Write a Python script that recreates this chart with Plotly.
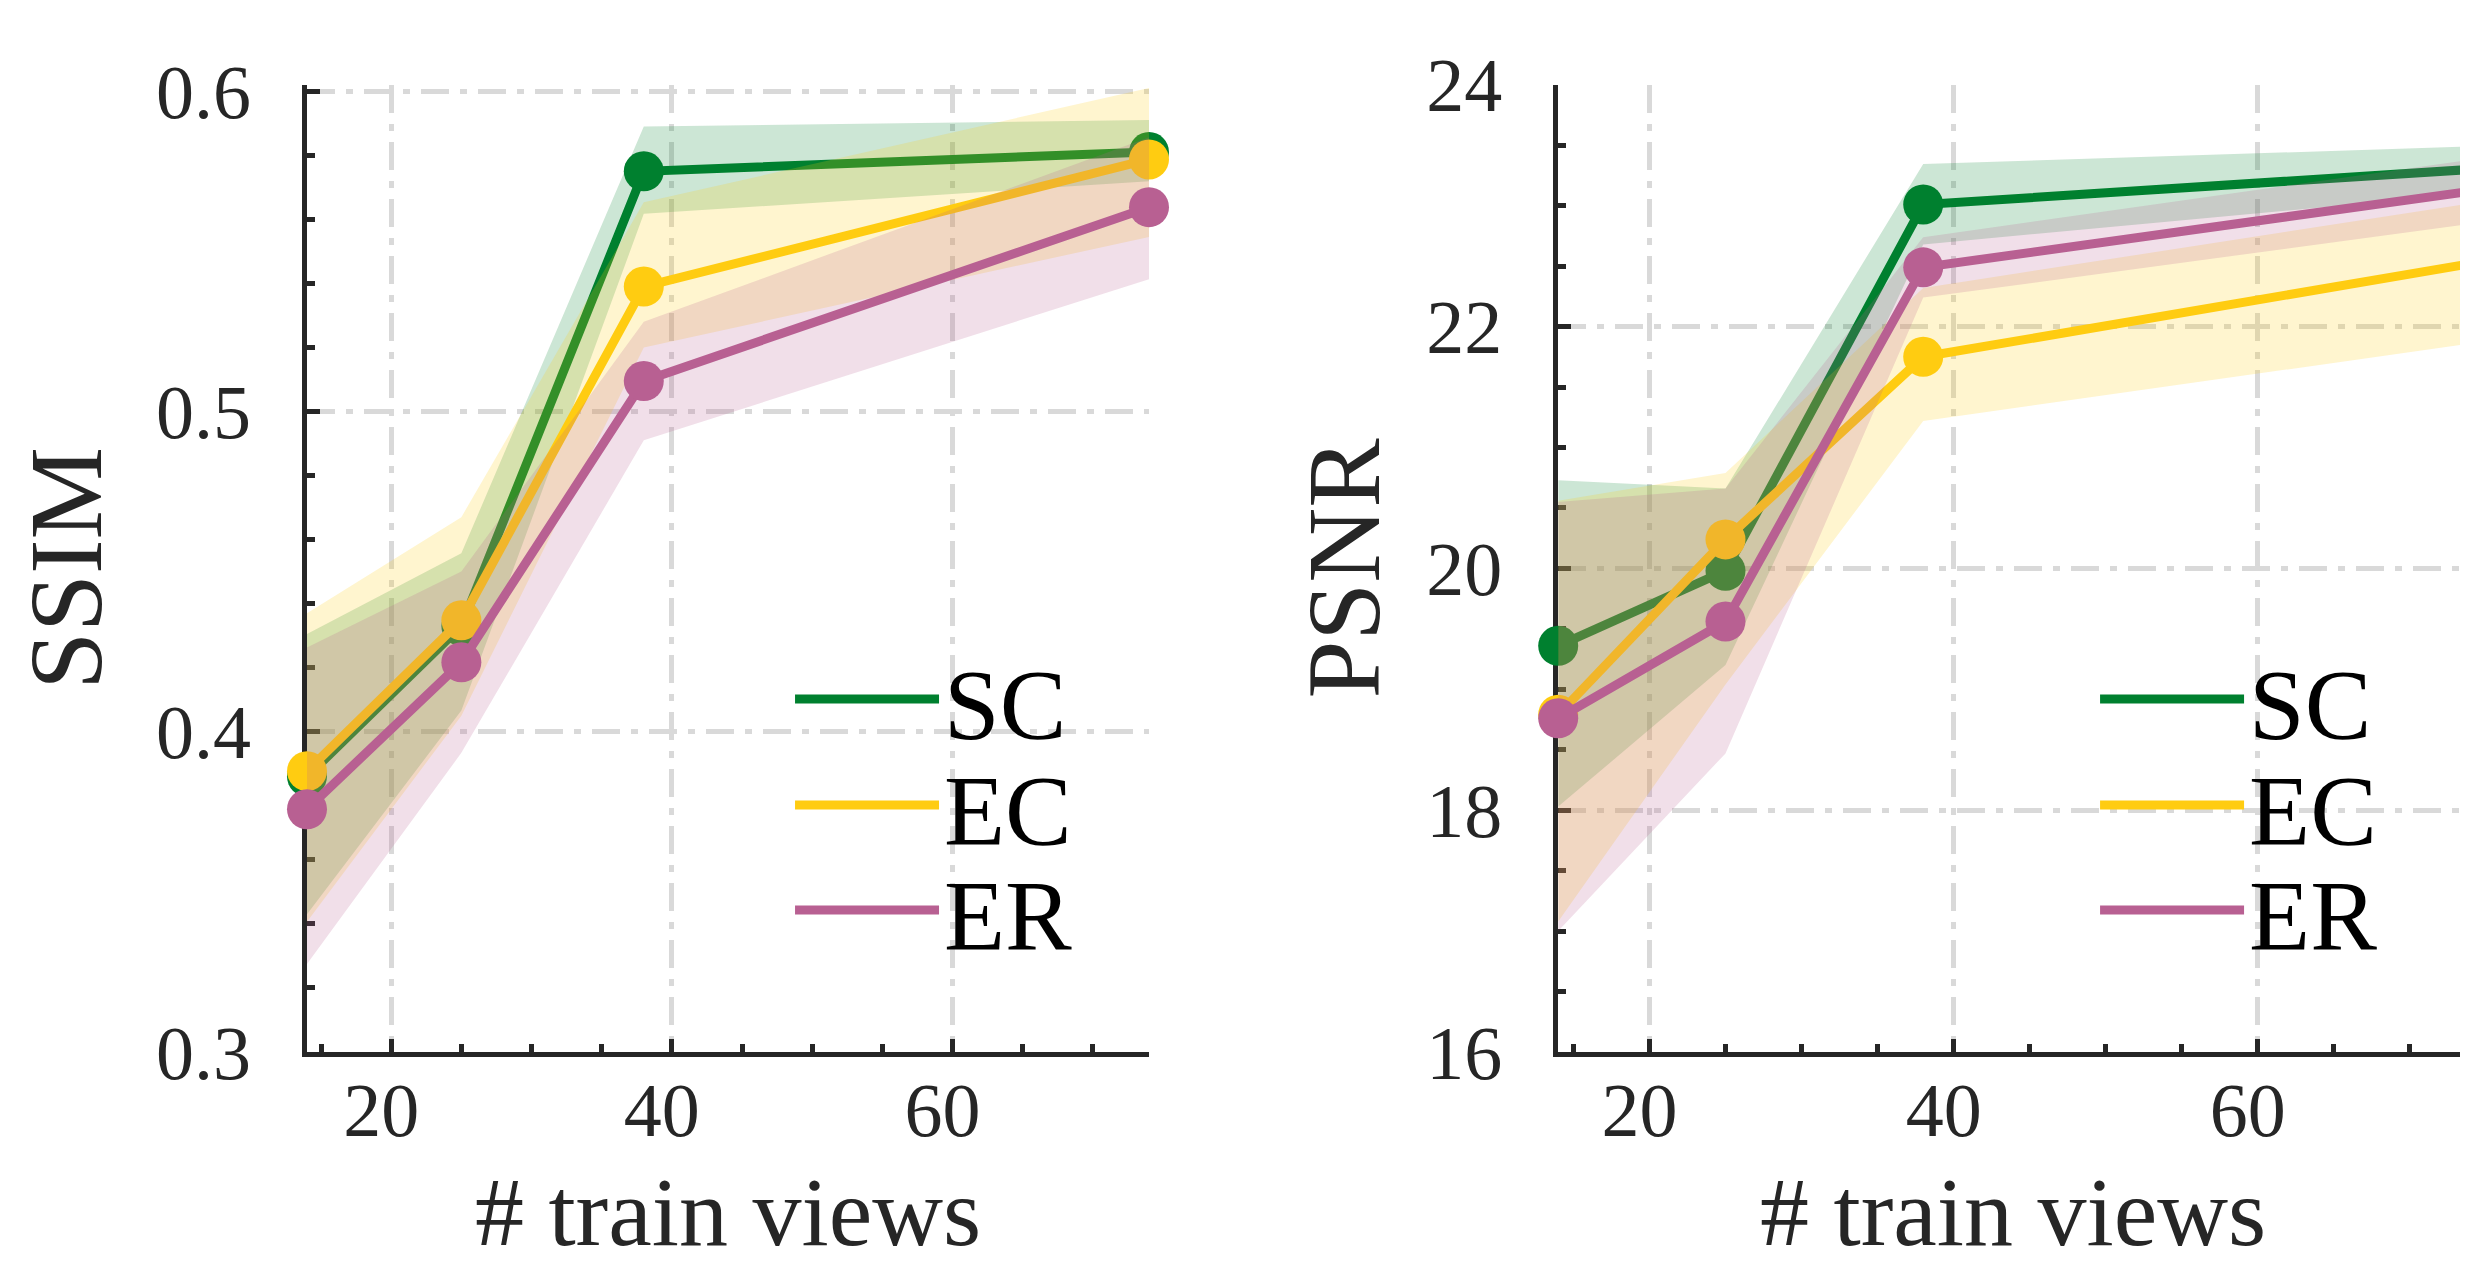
import plotly.graph_objects as go

# ---------------- data ----------------
x_views = [14, 25, 38, 74]
methods = ["SC", "EC", "ER"]

ssim_sc = [0.386, 0.433, 0.575, 0.581]
ssim_sc_hi = [0.4305, 0.4557, 0.589, 0.591]
ssim_sc_lo = [0.343, 0.4066, 0.5617, 0.5719]
ssim_ec = [0.3877, 0.4348, 0.539, 0.5787]
ssim_ec_hi = [0.437, 0.467, 0.5653, 0.601]
ssim_ec_lo = [0.3407, 0.405, 0.520, 0.5545]
ssim_er = [0.3758, 0.4217, 0.5095, 0.5638]
ssim_er_hi = [0.4263, 0.450, 0.528, 0.5856]
ssim_er_lo = [0.3275, 0.3934, 0.491, 0.5413]

psnr_sc = [19.36, 19.98, 23.01, 23.30]
psnr_sc_hi = [20.73, 20.66, 23.345, 23.49]
psnr_sc_lo = [18.03, 19.20, 22.68, 23.10]
psnr_ec = [18.79, 20.24, 21.75, 22.52]
psnr_ec_hi = [20.56, 20.79, 22.32, 23.02]
psnr_ec_lo = [17.08, 19.04, 21.22, 21.86]
psnr_er = [18.76, 19.56, 22.49, 23.12]
psnr_er_hi = [20.55, 20.66, 22.74, 23.38]
psnr_er_lo = [17.00, 18.47, 22.24, 22.85]

ssim_ticks = [0.3, 0.4, 0.5, 0.6]
psnr_ticks = [16, 18, 20, 22, 24]
x_ticks = [20, 40, 60]

# ---------------- style ----------------
FONT = "Liberation Serif"
AX = "#262626"
line_colors = {"SC": "#00802F", "EC": "#FFCC11", "ER": "#B86092"}
band_colors = {"SC": "rgba(0,128,47,0.2)", "EC": "rgba(255,204,17,0.2)",
               "ER": "rgba(184,96,146,0.2)"}

# page body adds an 8px margin: the figure is sized/laid out to compensate
W, H = 2460, 1258

panels = [
    dict(xa="x", ya="y",
         data={"SC": (ssim_sc, ssim_sc_lo, ssim_sc_hi),
               "EC": (ssim_ec, ssim_ec_lo, ssim_ec_hi),
               "ER": (ssim_er, ssim_er_lo, ssim_er_hi)},
         legends=["legend", "legend2", "legend3"]),
    dict(xa="x2", ya="y2",
         data={"SC": (psnr_sc, psnr_sc_lo, psnr_sc_hi),
               "EC": (psnr_ec, psnr_ec_lo, psnr_ec_hi),
               "ER": (psnr_er, psnr_er_lo, psnr_er_hi)},
         legends=["legend4", "legend5", "legend6"]),
]

fig = go.Figure()
for p in panels:
    for m, leg in zip(methods, p["legends"]):
        mean, lo, hi = p["data"][m]
        fig.add_trace(go.Scatter(
            x=x_views + x_views[::-1], y=hi + lo[::-1], fill="toself",
            fillcolor=band_colors[m], line=dict(width=0), mode="lines",
            hoverinfo="skip", showlegend=False, xaxis=p["xa"], yaxis=p["ya"]))
        fig.add_trace(go.Scatter(
            x=x_views, y=mean, mode="lines", name=m, legend=leg,
            line=dict(color=line_colors[m], width=9),
            xaxis=p["xa"], yaxis=p["ya"]))
        fig.add_trace(go.Scatter(
            x=x_views, y=mean, mode="markers", name=m, showlegend=False,
            marker=dict(size=40, color=line_colors[m]), cliponaxis=False,
            xaxis=p["xa"], yaxis=p["ya"]))

Y_DOM = [0.17011, 0.93895]


def xaxis(rng, dom, anchor):
    return dict(
        domain=dom, range=rng, anchor=anchor, tickvals=x_ticks,
        automargin=False,
        showgrid=True, gridcolor="#D9D9D9", gridwidth=4.5,
        griddash="28px,11px,7px,11px",
        showline=True, linecolor=AX, linewidth=4.5, zeroline=False,
        ticks="inside", ticklen=13, tickwidth=4.5, tickcolor=AX,
        minor=dict(dtick=5, tick0=0, ticks="inside", ticklen=8,
                   tickwidth=4.5, tickcolor=AX, showgrid=False),
        layer="below traces",
        tickfont=dict(family=FONT, size=76, color=AX),
        ticklabelstandoff=-12, ticklabelshift=-10,
        title=dict(text="# train views", standoff=73,
                   font=dict(family=FONT, size=98, color=AX)))


def yaxis(rng, ticks, minor, fmt, title, standoff, anchor):
    return dict(
        domain=Y_DOM, range=rng, anchor=anchor, tickvals=ticks,
        tickformat=fmt, automargin=False,
        showgrid=True, gridcolor="#D9D9D9", gridwidth=4.5,
        griddash="28px,11px,7px,11px",
        showline=True, linecolor=AX, linewidth=4.5, zeroline=False,
        ticks="inside", ticklen=13, tickwidth=4.5, tickcolor=AX,
        minor=dict(dtick=minor, tick0=ticks[0], ticks="inside", ticklen=8,
                   tickwidth=4.5, tickcolor=AX, showgrid=False),
        layer="below traces",
        tickfont=dict(family=FONT, size=76, color=AX),
        ticklabelstandoff=36,
        title=dict(text=title, standoff=standoff,
                   font=dict(family=FONT, size=104, color=AX)))


legend_y = [0.4507, 0.3665, 0.2830]
legend_x = [0.3179, 0.8484]

layout = dict(
    width=W, height=H,
    margin=dict(l=0, r=0, t=0, b=0, autoexpand=False),
    paper_bgcolor="white", plot_bgcolor="white",
    xaxis=xaxis([14, 74], [0.12154, 0.46382], "y"),
    yaxis=yaxis([0.3, 0.602], ssim_ticks, 0.02, ".1f", "SSIM", 30, "x"),
    xaxis2=xaxis([14, 73.82], [0.63016, 1.0], "y2"),
    yaxis2=yaxis([16, 24], psnr_ticks, 0.5, "d", "PSNR", 13, "x2"),
)
names = ["legend", "legend2", "legend3", "legend4", "legend5", "legend6"]
for i, nm in enumerate(names):
    layout[nm] = dict(
        x=legend_x[i // 3], y=legend_y[i % 3], xanchor="left", yanchor="middle",
        xref="paper", yref="paper", bgcolor="rgba(0,0,0,0)", borderwidth=0,
        itemwidth=144, font=dict(family=FONT, size=100, color="black"))

fig.update_layout(**layout)
fig.write_html("out.html")
